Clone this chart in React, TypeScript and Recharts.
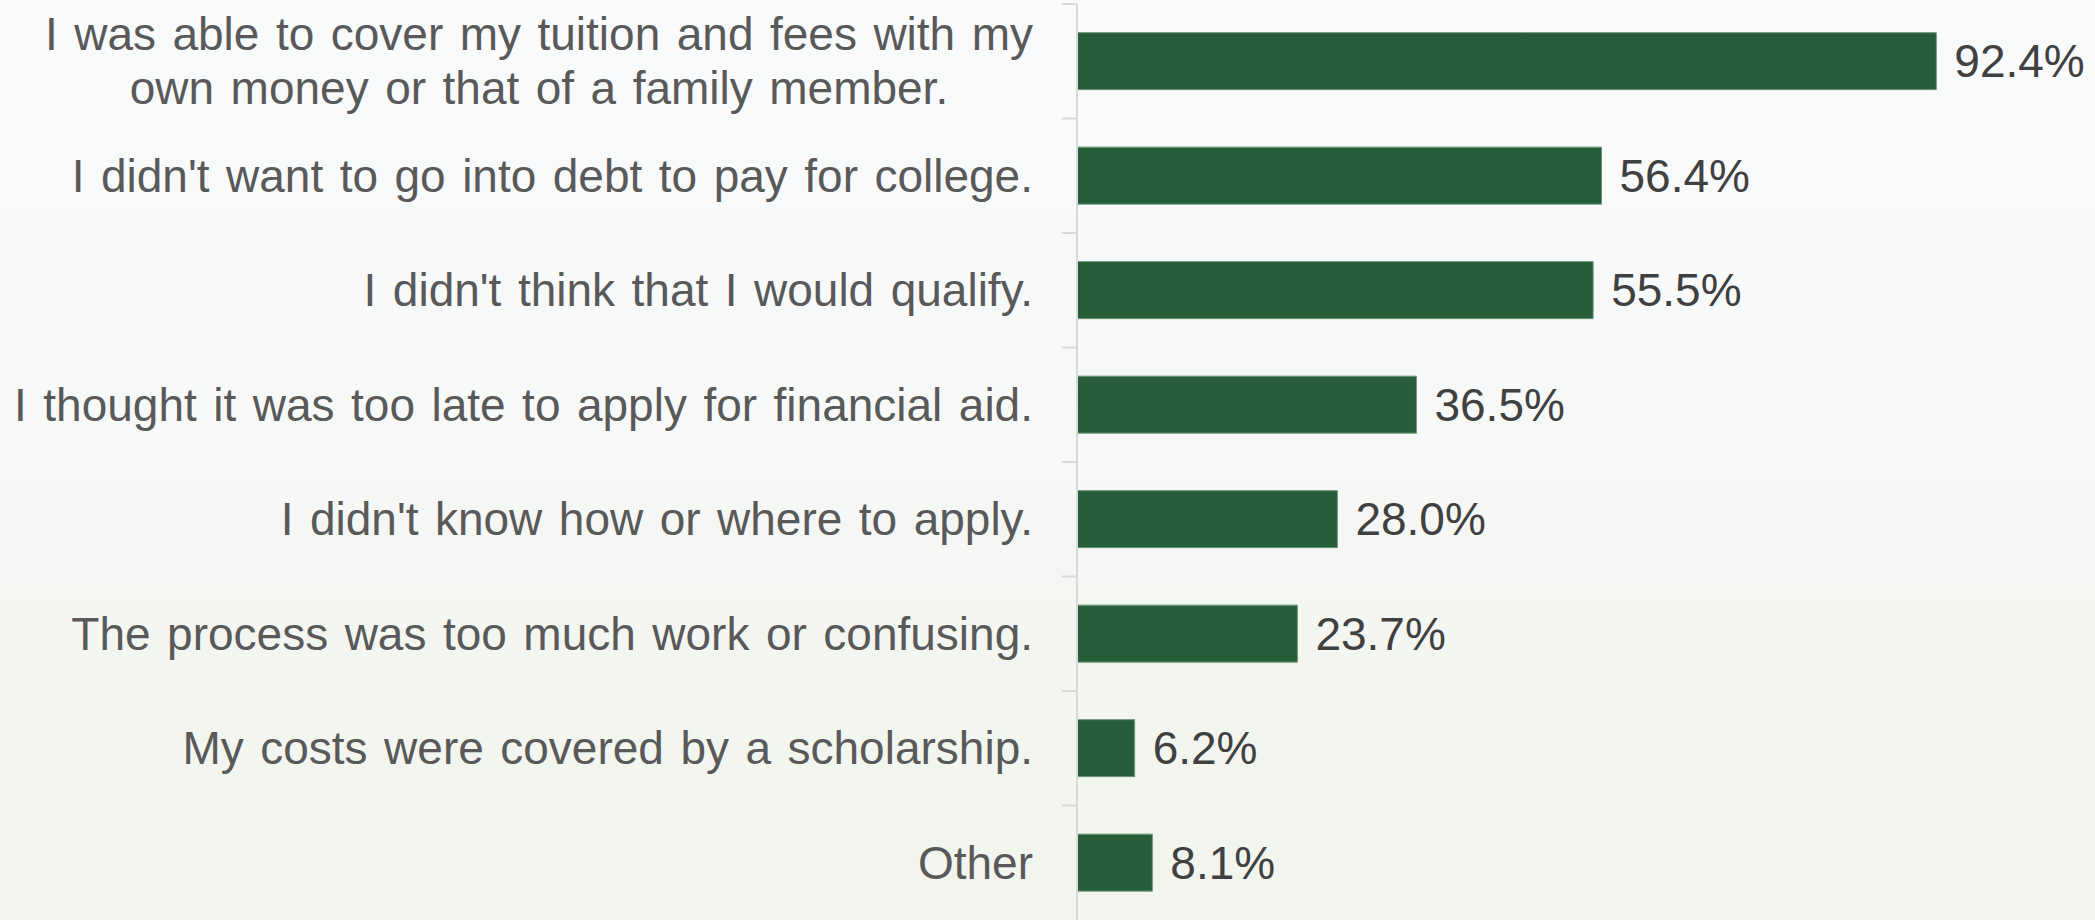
import { BarChart, Bar, XAxis, YAxis, LabelList } from 'recharts';

const categories = [
  'I was able to cover my tuition and fees with my\nown money or that of a family member.',
  "I didn't want to go into debt to pay for college.",
  "I didn't think that I would qualify.",
  'I thought it was too late to apply for financial aid.',
  "I didn't know how or where to apply.",
  'The process was too much work or confusing.',
  'My costs were covered by a scholarship.',
  'Other',
];

const percents = [92.4, 56.4, 55.5, 36.5, 28.0, 23.7, 6.2, 8.1];

const data = categories.map((reason, i) => ({ reason, pct: percents[i] }));

const WIDTH = 2095;
const HEIGHT = 920;
const MARGIN = { top: 4, right: 88, bottom: 0, left: 0 };
const AXIS_WIDTH = 1077;
const FONT = "'Liberation Sans', Arial, sans-serif";
const FONT_SIZE = 46;
const WORD_SPACING = 3.7;
const LINE_GAP = 54;
const BAND = (HEIGHT - MARGIN.top - MARGIN.bottom) / categories.length;

let ctx: CanvasRenderingContext2D | null = null;
const measure = (s: string) => {
  if (!ctx) {
    ctx = document.createElement('canvas').getContext('2d');
  }
  const spaces = s.split(' ').length - 1;
  if (!ctx) return s.length * FONT_SIZE * 0.5 + spaces * WORD_SPACING;
  ctx.font = `${FONT_SIZE}px ${FONT}`;
  return ctx.measureText(s).width + spaces * WORD_SPACING;
};

// category label, right aligned, plus a small tick between categories
const CategoryTick = (props: any) => {
  const { x, y, payload } = props;
  const lines: string[] = String(payload.value).split('\n');
  const right = x - 44;
  const maxW = Math.max(...lines.map(measure));
  const firstBase = y - ((lines.length - 1) * LINE_GAP) / 2 + FONT_SIZE * 0.35;
  const multi = lines.length > 1;
  return (
    <g>
      <line x1={x - 15} x2={x} y1={y - BAND / 2} y2={y - BAND / 2} stroke="#d9d9d9" strokeWidth={2} />
      <text
        fontFamily={FONT}
        fontSize={FONT_SIZE}
        fill="#595959"
        wordSpacing={WORD_SPACING}
        textAnchor={multi ? 'middle' : 'end'}
      >
        {lines.map((line, i) => (
          <tspan key={i} x={multi ? right - maxW / 2 : right} y={firstBase + i * LINE_GAP}>
            {line}
          </tspan>
        ))}
      </text>
    </g>
  );
};

export default function App() {
  return (
    <div
      style={{
        position: 'absolute',
        top: 0,
        left: 0,
        width: WIDTH,
        height: HEIGHT,
        overflow: 'hidden',
        background: 'linear-gradient(180deg, #f9fafc 0%, #f7f8f8 45%, #f3f5f0 75%, #f2f4ee 100%)',
      }}
    >
      <BarChart
        width={WIDTH}
        height={HEIGHT}
        data={data}
        layout="vertical"
        margin={MARGIN}
        barCategoryGap="25%"
      >
        <XAxis type="number" domain={[0, 100]} hide />
        <YAxis
          type="category"
          dataKey="reason"
          width={AXIS_WIDTH}
          axisLine={{ stroke: '#d9d9d9', strokeWidth: 2 }}
          tickLine={false}
          tickSize={0}
          tickMargin={0}
          interval={0}
          tick={<CategoryTick />}
        />
        <Bar dataKey="pct" fill="#265e3a" stroke="#6d9678" strokeWidth={1} isAnimationActive={false}>
          <LabelList
            dataKey="pct"
            position="right"
            offset={18}
            fill="#404040"
            fontSize={FONT_SIZE}
            fontFamily={FONT}
            formatter={(v: any) => `${Number(v).toFixed(1)}%`}
          />
        </Bar>
      </BarChart>
    </div>
  );
}
